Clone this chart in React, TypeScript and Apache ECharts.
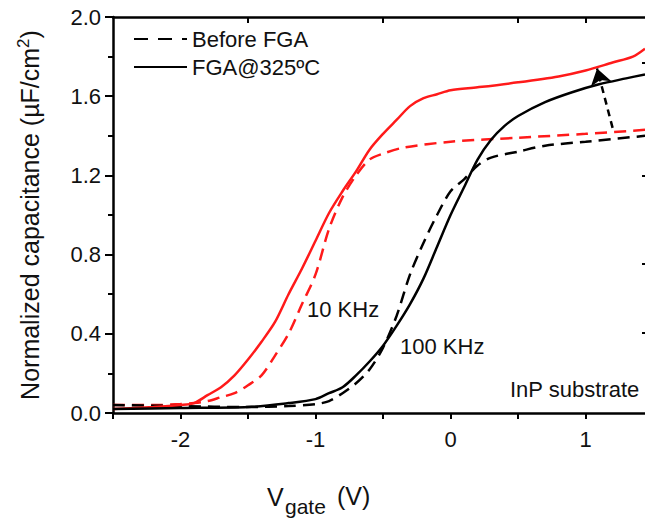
import React, { useEffect, useRef } from "react";
import * as echarts from "echarts";

// 10 kHz, after FGA (red solid)
const v10After = [-2.5, -2.2, -2.0, -1.9, -1.8, -1.7, -1.6, -1.5, -1.4, -1.3, -1.2, -1.1, -1.0, -0.9, -0.8, -0.7, -0.6, -0.5, -0.4, -0.3, -0.2, -0.1, 0, 0.2, 0.5, 0.8, 1.0, 1.2, 1.35, 1.44];
const c10After = [0.02, 0.03, 0.04, 0.05, 0.09, 0.13, 0.19, 0.27, 0.36, 0.46, 0.6, 0.73, 0.87, 1.01, 1.12, 1.22, 1.33, 1.41, 1.48, 1.55, 1.59, 1.61, 1.63, 1.645, 1.67, 1.7, 1.73, 1.77, 1.8, 1.84];
// 10 kHz, before FGA (red dashed)
const v10Before = [-2.5, -2.2, -2.0, -1.9, -1.8, -1.7, -1.6, -1.5, -1.4, -1.3, -1.2, -1.1, -1.0, -0.9, -0.8, -0.7, -0.6, -0.5, -0.35, 0, 0.5, 1.0, 1.44];
const c10Before = [0.04, 0.04, 0.045, 0.05, 0.06, 0.08, 0.1, 0.14, 0.19, 0.29, 0.4, 0.55, 0.7, 0.93, 1.09, 1.2, 1.28, 1.31, 1.34, 1.37, 1.39, 1.41, 1.43];
// 100 kHz, before FGA (black dashed)
const v100Before = [-2.5, -2.0, -1.5, -1.2, -1.0, -0.9, -0.8, -0.7, -0.6, -0.5, -0.4, -0.3, -0.2, -0.1, 0, 0.1, 0.2, 0.3, 0.5, 0.7, 1.0, 1.44];
const c100Before = [0.04, 0.035, 0.03, 0.035, 0.045, 0.06, 0.1, 0.15, 0.22, 0.33, 0.49, 0.7, 0.86, 1.0, 1.12, 1.18, 1.25, 1.29, 1.32, 1.35, 1.37, 1.4];
// 100 kHz, after FGA (black solid)
const v100After = [-2.5, -2.0, -1.5, -1.2, -1.0, -0.9, -0.8, -0.7, -0.6, -0.5, -0.4, -0.3, -0.2, -0.1, 0, 0.1, 0.2, 0.3, 0.4, 0.5, 0.7, 0.9, 1.1, 1.3, 1.44];
const c100After = [0.02, 0.025, 0.03, 0.05, 0.07, 0.1, 0.13, 0.19, 0.26, 0.34, 0.44, 0.55, 0.68, 0.84, 1.0, 1.14, 1.28, 1.38, 1.45, 1.5, 1.57, 1.62, 1.66, 1.69, 1.71];

// arrow from before (red dashed) to after (red solid)
const arrowStart = [1.2, 1.44];
const arrowEnd = [1.085, 1.74];

const legendNames = ["Before FGA", "FGA@325ºC"];
const topTicks = [-1.5, -0.5, 0.5, 1.0];
const rightTicks = [0.405, 0.752, 1.2, 1.768];

const X_MIN = -2.5;
const X_MAX = 1.44;

const FONT = "'Liberation Sans', Arial, Helvetica, sans-serif";
const TXT = "#111";

const zip = (xs: number[], ys: number[]) => xs.map((x, i) => [x, ys[i]]);

export default function App() {
  const ref = useRef<HTMLDivElement>(null);
  useEffect(() => {
    if (!ref.current) return;
    const chart = echarts.init(ref.current, undefined, { renderer: "svg" });
    const dash = [12, 7];
    const lineBase = { type: "line", showSymbol: false, symbol: "none", smooth: 0.3, silent: true, xAxisIndex: 0, yAxisIndex: 0 } as any;
    chart.setOption({
      animation: false,
      backgroundColor: "#fff",
      grid: { left: 113, right: 0, top: 17, bottom: 118, containLabel: false, outerBoundsMode: "none" },
      legend: {
        data: legendNames,
        orient: "vertical",
        left: 128,
        top: 23,
        itemWidth: 53,
        itemHeight: 14,
        itemGap: 6,
        selectedMode: false,
        itemStyle: { opacity: 0, borderWidth: 0 },
        textStyle: { fontSize: 22, color: TXT, fontFamily: FONT },
      },
      xAxis: [
        {
          type: "value",
          min: X_MIN,
          max: X_MAX,
          interval: 0.5,
          position: "bottom",
          splitLine: { show: false },
          axisLine: { show: true, onZero: false, lineStyle: { color: "#000", width: 2.5 } },
          axisTick: { show: true, length: 6, lineStyle: { color: "#000", width: 2 } },
          axisLabel: {
            margin: 15,
            fontSize: 22,
            color: TXT,
            fontFamily: FONT,
            formatter: (v: number) => (Number.isInteger(v) ? String(v) : ""),
            showMaxLabel: false,
          },
        },
        {
          type: "value",
          min: X_MIN,
          max: X_MAX,
          position: "top",
          splitLine: { show: false },
          axisLine: { show: true, onZero: false, lineStyle: { color: "#000", width: 2.5 } },
          axisTick: { show: true, inside: true, length: 6, customValues: topTicks, lineStyle: { color: "#000", width: 2 } },
          axisLabel: { show: false },
        },
      ],
      yAxis: [
        {
          type: "value",
          min: 0,
          max: 2,
          interval: 0.4,
          position: "left",
          splitLine: { show: false },
          axisLine: { show: true, onZero: false, lineStyle: { color: "#000", width: 2.5 } },
          axisTick: { show: true, length: 8, lineStyle: { color: "#000", width: 2 } },
          minorTick: { show: true, splitNumber: 2, length: 5, lineStyle: { color: "#000", width: 2 } },
          axisLabel: { margin: 12, fontSize: 22, color: TXT, fontFamily: FONT, formatter: (v: number) => v.toFixed(1) },
          name: "Normalized capacitance (µF/cm{sup|2})",
          nameLocation: "middle",
          nameGap: 68,
          nameTextStyle: {
            fontSize: 25,
            color: TXT,
            fontFamily: FONT,
            rich: { sup: { fontSize: 17, color: TXT, fontFamily: FONT, verticalAlign: "top", lineHeight: 30 } },
          },
        },
        {
          type: "value",
          min: 0,
          max: 2,
          position: "right",
          splitLine: { show: false },
          axisLine: { show: false, onZero: false },
          axisTick: { show: true, inside: true, length: 3, customValues: rightTicks, lineStyle: { color: "#000", width: 2 } },
          axisLabel: { show: false },
        },
      ],
      series: [
        { ...lineBase, name: "10k before", data: zip(v10Before, c10Before), lineStyle: { color: "#ff1a1a", width: 2.5, type: dash }, z: 3 },
        { ...lineBase, name: "100k before", data: zip(v100Before, c100Before), lineStyle: { color: "#000", width: 2.5, type: dash }, z: 3 },
        { ...lineBase, name: "10k after", data: zip(v10After, c10After), lineStyle: { color: "#ff1a1a", width: 2.5 }, z: 4 },
        { ...lineBase, name: "100k after", data: zip(v100After, c100After), lineStyle: { color: "#000", width: 2.5 }, z: 4 },
        { ...lineBase, name: legendNames[0], data: [], itemStyle: { color: "#000", opacity: 0 }, lineStyle: { color: "#000", width: 2.5, type: [14, 10] } },
        { ...lineBase, name: legendNames[1], data: [], itemStyle: { color: "#000", opacity: 0 }, lineStyle: { color: "#000", width: 2.5 } },
        {
          ...lineBase,
          name: "arrow",
          data: [],
          markLine: {
            silent: true,
            symbol: ["none", "arrow"],
            symbolSize: 16,
            label: { show: false },
            itemStyle: { color: "#000" },
            lineStyle: { color: "#000", width: 2.5, type: [7, 5] },
            data: [[{ coord: arrowStart }, { coord: arrowEnd }]],
          },
        },
      ],
      graphic: [
        { type: "text", left: 307, top: 298, style: { text: "10 KHz", fontSize: 22, fill: TXT, fontFamily: FONT } },
        { type: "text", left: 400, top: 335, style: { text: "100 KHz", fontSize: 22, fill: TXT, fontFamily: FONT } },
        { type: "text", left: 510, top: 378, style: { text: "InP substrate", fontSize: 22, fill: TXT, fontFamily: FONT } },
        { type: "text", left: 267, top: 484, style: { text: "V", fontSize: 25, fill: TXT, fontFamily: FONT } },
        { type: "text", left: 285, top: 496, style: { text: "gate", fontSize: 21, fill: TXT, fontFamily: FONT } },
        { type: "text", left: 337, top: 483, style: { text: "(V)", fontSize: 25, fill: TXT, fontFamily: FONT } },
      ],
    });
    return () => chart.dispose();
  }, []);
  return <div ref={ref} style={{ position: "fixed", left: 0, top: 0, width: 645, height: 531 }} />;
}
